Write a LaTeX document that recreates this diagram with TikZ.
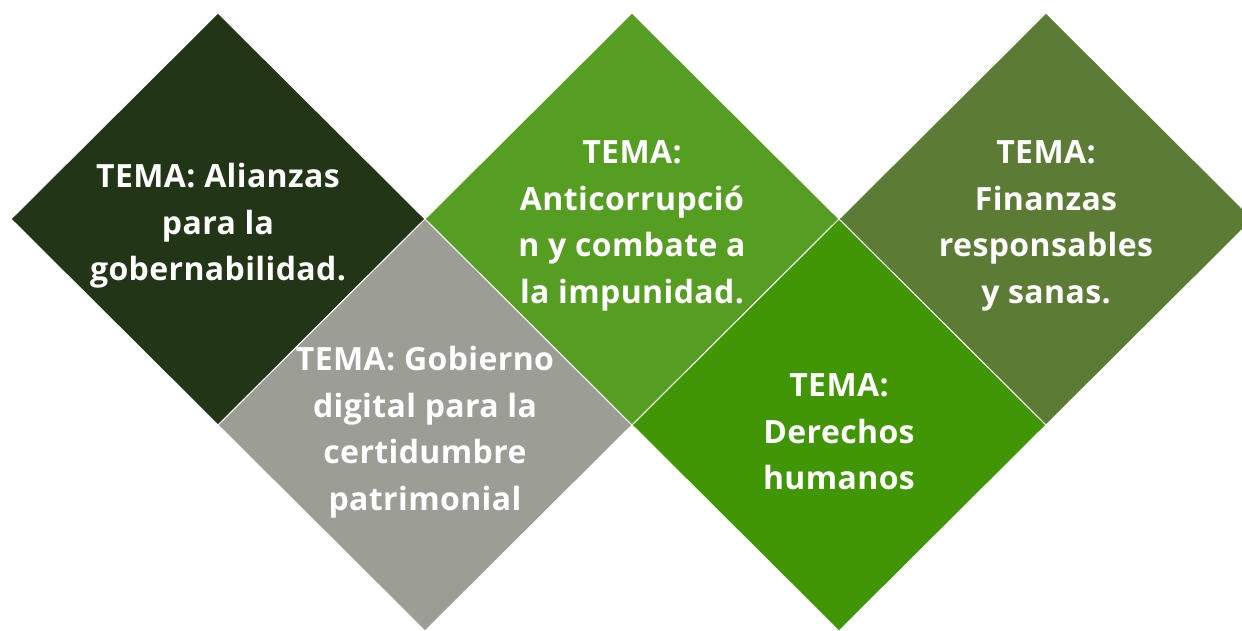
\documentclass[tikz,border=0pt]{standalone}
\usepackage{fontspec}
\setmainfont{Open Sans}
\newfontfamily\temafont[LetterSpace=1.2]{Open Sans}
\usetikzlibrary{shapes.geometric}
\definecolor{alianzas}{RGB}{34,54,23}
\definecolor{gobierno}{RGB}{156,158,149}
\definecolor{anticorrupcion}{RGB}{86,158,34}
\definecolor{derechos}{RGB}{64,150,4}
\definecolor{finanzas}{RGB}{92,124,54}
\begin{document}
\begin{tikzpicture}[x=1pt,y=-1pt,
                tile/.style={diamond,minimum width=414pt,minimum height=412pt,inner sep=0pt,draw=white,line width=0.8pt},
                tema/.style={text=white,font=\temafont\bfseries\fontsize{32}{46.5}\selectfont,align=center,yshift=-7pt}]
                \useasboundingbox (0,0) rectangle (1242,631);
                \node[tile,fill=alianzas] (alianzas) at (218,219) {};
                \node[tile,fill=gobierno] (gobierno) at (425,425) {};
                \node[tile,fill=anticorrupcion] (anticorrupcion) at (632,219) {};
                \node[tile,fill=derechos] (derechos) at (839,425) {};
                \node[tile,fill=finanzas] (finanzas) at (1046,219) {};
                \node[tema] (alianzastxt) at (alianzas) {TEMA: Alianzas\\para la\\gobernabilidad.};
                \node[tema] (gobiernotxt) at (gobierno) {TEMA: Gobierno\\digital para la\\certidumbre\\patrimonial};
                \node[tema] (anticorrupciontxt) at (anticorrupcion) {TEMA:\\Anticorrupció\\n y combate a\\la impunidad.};
                \node[tema] (derechostxt) at (derechos) {TEMA:\\Derechos\\humanos};
                \node[tema] (finanzastxt) at (finanzas) {TEMA:\\Finanzas\\responsables\\y sanas.};
            \end{tikzpicture}
\end{document}
